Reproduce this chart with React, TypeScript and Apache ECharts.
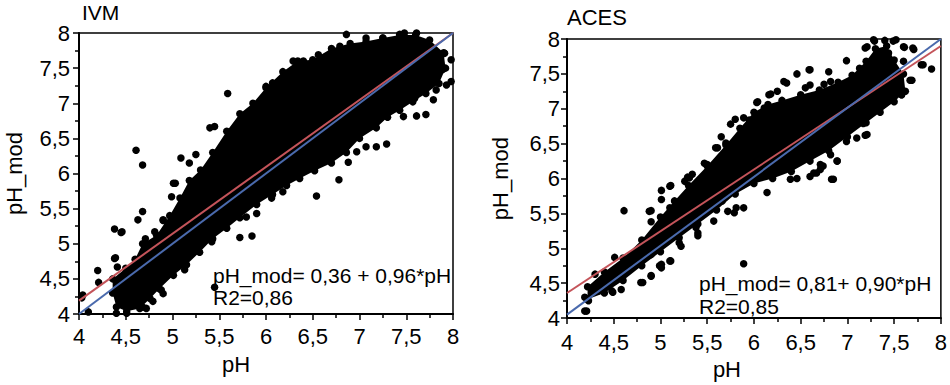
import React, { useEffect, useRef } from 'react';
import * as echarts from 'echarts';

// ---------- data ----------
const TITLES = ['IVM', 'ACES'];
const EQUATIONS = ['pH_mod= 0,36 + 0,96*pH', 'pH_mod= 0,81+ 0,90*pH'];
const R2_LABELS = ['R2=0,86', 'R2=0,85'];

// dense cloud outline (upper edge then lower edge) – IVM
const IVM_UPPER: number[][] = [
  [4.36, 4.5], [4.5, 4.65], [4.6, 4.78], [4.68, 5.0], [4.83, 5.12], [4.97, 5.4], [5.08, 5.65], [5.18, 5.9],
  [5.3, 6.05], [5.43, 6.3], [5.58, 6.6], [5.72, 6.85], [5.86, 7.0], [6.0, 7.22], [6.18, 7.45], [6.34, 7.6],
  [6.5, 7.62], [6.7, 7.78], [6.9, 7.85], [7.07, 7.88], [7.25, 7.93], [7.43, 7.97], [7.6, 7.97], [7.75, 7.9], [7.9, 7.72],
];
const IVM_LOWER: number[][] = [
  [7.92, 7.5], [7.85, 7.28], [7.71, 7.14], [7.57, 7.02], [7.43, 6.9], [7.3, 6.8], [7.18, 6.65], [7.0, 6.5],
  [6.86, 6.3], [6.7, 6.15], [6.52, 6.04], [6.36, 5.93], [6.22, 5.83], [6.07, 5.7], [5.9, 5.56], [5.72, 5.37],
  [5.58, 5.22], [5.43, 5.07], [5.29, 4.88], [5.15, 4.7], [5.01, 4.55], [4.86, 4.36], [4.76, 4.22], [4.65, 4.08],
  [4.51, 4.04], [4.4, 4.1], [4.36, 4.3],
];
const IVM_POINTS: number[][] = [
  [5.59, 7.14], [4.61, 6.33], [4.68, 6.12], [4.68, 5.46], [4.63, 5.34], [4.38, 5.21], [4.45, 5.16], [4.38, 4.79],
  [4.41, 4.67], [4.2, 4.62], [4.21, 4.45], [4.04, 4.27], [4.1, 4.03], [4.4, 4.01], [4.51, 4.01], [4.76, 4.96],
  [4.9, 5.34], [5.01, 5.86], [5.09, 6.22], [5.18, 6.15], [5.25, 6.27], [4.99, 5.67], [5.4, 6.65], [5.45, 6.67],
  [5.72, 5.09], [5.85, 5.11], [5.79, 5.38], [5.9, 5.43], [6.06, 5.65], [6.18, 5.74], [6.54, 5.68], [6.78, 5.91],
  [6.88, 6.16], [6.97, 6.31], [7.07, 6.38], [7.18, 6.38], [7.29, 6.42], [7.47, 6.81], [7.61, 6.82], [7.71, 6.84],
  [7.79, 7.05], [7.59, 7.07], [7.91, 7.71], [7.98, 7.62], [7.98, 7.31], [7.93, 7.26], [7.82, 7.19], [7.89, 7.48],
  [7.54, 7.21], [6.86, 7.98], [6.79, 7.81], [6.29, 7.6], [6.4, 7.6], [6.0, 7.24], [6.07, 7.29], [6.56, 7.69],
  [7.43, 7.98], [7.48, 8.0], [7.61, 8.0], [7.25, 7.93], [7.07, 7.93], [4.86, 4.67], [4.9, 4.29], [4.79, 4.18],
  [4.72, 4.08], [4.47, 4.29], [5.45, 4.38], [5.42, 5.03], [5.13, 4.63], [4.99, 4.58], [4.88, 4.34], [4.68, 4.1],
  [5.03, 5.86], [4.9, 5.33], [4.81, 5.17], [4.71, 5.07], [4.46, 5.17], [4.39, 4.8], [4.03, 4.23],
];
const IVM_FIT: number[][] = [[4, 4.19], [8, 8.0]];
const IVM_ONE: number[][] = [[4, 4.0], [8, 8.0]];

// ACES
const ACES_UPPER: number[][] = [
  [4.22, 4.45], [4.4, 4.66], [4.6, 4.86], [4.8, 5.12], [5.0, 5.45], [5.15, 5.68], [5.3, 5.9], [5.5, 6.18],
  [5.7, 6.48], [5.85, 6.72], [6.0, 6.95], [6.15, 7.06], [6.3, 7.12], [6.5, 7.2], [6.7, 7.27], [6.9, 7.38],
  [7.05, 7.48], [7.2, 7.68], [7.3, 7.86], [7.42, 7.9], [7.5, 7.7], [7.6, 7.5],
];
const ACES_LOWER: number[][] = [
  [7.62, 7.25], [7.5, 7.1], [7.35, 6.95], [7.2, 6.8], [7.0, 6.6], [6.8, 6.4], [6.6, 6.25], [6.4, 6.1],
  [6.2, 6.0], [6.0, 5.93], [5.8, 5.78], [5.6, 5.55], [5.4, 5.35], [5.2, 5.15], [5.0, 4.95], [4.8, 4.75],
  [4.6, 4.54], [4.4, 4.36], [4.22, 4.27],
];
const ACES_POINTS: number[][] = [
  [7.29, 7.97], [7.4, 7.98], [7.49, 7.97], [7.19, 7.87], [7.61, 7.88], [7.71, 7.85], [7.33, 7.82], [7.44, 7.8],
  [7.81, 7.63], [7.9, 7.57], [7.49, 7.68], [7.6, 7.68], [7.69, 7.41], [7.58, 7.2], [6.99, 7.69], [7.13, 7.58],
  [6.6, 7.56], [6.46, 7.5], [6.8, 7.53], [6.32, 7.39], [6.6, 7.34], [6.82, 7.39], [6.18, 7.21], [6.03, 7.09],
  [6.11, 7.01], [5.95, 6.84], [5.75, 6.78], [5.61, 6.44], [5.5, 6.2], [5.29, 6.02], [6.18, 6.63], [6.32, 6.96],
  [6.41, 6.96], [6.5, 7.13], [6.99, 7.1], [7.17, 6.79], [7.19, 6.62], [7.1, 6.58], [6.99, 6.53], [6.82, 6.34],
  [6.89, 6.25], [6.71, 6.2], [6.67, 6.08], [6.85, 5.99], [7.31, 7.06], [7.38, 7.15], [7.52, 7.29],
  [6.6, 6.03], [6.46, 6.0], [5.89, 5.58], [5.89, 4.78], [5.81, 5.58], [5.72, 5.53], [5.66, 5.68], [5.38, 5.3],
  [5.4, 5.18], [5.2, 5.08], [5.11, 4.82], [5.01, 4.77], [5.01, 4.72], [4.9, 4.61], [4.81, 4.51], [4.61, 5.54],
  [5.1, 5.89], [5.01, 5.83], [5.01, 5.7], [4.9, 5.54], [4.9, 5.38], [5.1, 5.58], [5.11, 5.44], [5.01, 5.2],
  [5.01, 5.1], [4.51, 4.87], [4.3, 4.63], [4.19, 4.1], [4.19, 4.3], [4.48, 4.39], [4.33, 4.39], [4.9, 4.91],
  [4.77, 4.82], [5.5, 5.91], [5.26, 5.96], [5.34, 6.06],
  [4.88, 5.53], [5.11, 5.9], [5.31, 6.01], [5.47, 6.22], [5.59, 6.44], [5.7, 6.51], [5.89, 6.87], [6.04, 7.1],
  [6.16, 7.2], [6.35, 7.37], [6.59, 7.56], [7.21, 7.89], [7.28, 7.99], [7.52, 7.99], [7.6, 7.89], [7.7, 7.87],
  [7.79, 7.63], [7.67, 7.41], [7.58, 7.2], [7.21, 6.63], [6.92, 6.63], [6.89, 6.25], [6.74, 6.18], [6.71, 6.13],
  [6.83, 5.99], [6.64, 6.08], [6.39, 5.99], [6.14, 5.8], [5.79, 5.51], [5.57, 5.39], [5.4, 5.22], [5.22, 5.03],
  [5.1, 4.82], [4.99, 4.75], [4.9, 4.6], [4.79, 4.51], [4.58, 4.41], [4.49, 4.37], [4.37, 4.41], [4.23, 4.25],
  [4.21, 4.1], [6.25, 7.25], [6.55, 7.3], [6.75, 7.35], [5.8, 6.85], [5.65, 6.6],
];
const ACES_FIT: number[][] = [[4, 4.36], [8, 7.9]];
const ACES_ONE: number[][] = [[4, 4.05], [8, 8.0]];

// ---------- styling ----------
const FONT = '"Liberation Sans", Arial, Helvetica, sans-serif';
const RED = '#c4545a';
const BLUE = '#4a6aad';
const fmt = (v: number) => String(v).replace('.', ',');

const GRIDS = [
  { left: 79, top: 33, width: 374, height: 281 },
  { left: 567, top: 39, width: 376, height: 280 },
];

function makeX(gridIndex: number, labelMargin: number, nameGap: number, shift: number) {
  return {
    type: 'value', gridIndex, min: 4, max: 8, interval: 0.5,
    axisLine: { show: true, onZero: false, lineStyle: { color: '#000', width: 2 } },
    axisTick: { show: true, length: 6, lineStyle: { color: '#000', width: 1.5 } },
    minorTick: { show: true, splitNumber: 2, length: 4, lineStyle: { color: '#000', width: 1.5 } },
    splitLine: { show: false }, minorSplitLine: { show: false },
    axisLabel: { formatter: fmt, fontSize: 22, color: '#000', fontFamily: FONT, margin: labelMargin, showMinLabel: true, showMaxLabel: true },
    name: 'pH', nameLocation: 'middle', nameGap,
    nameTextStyle: { fontSize: 22, color: '#000', fontFamily: FONT, padding: [0, shift * 2, 0, 0] },
  };
}
function makeY(gridIndex: number, labelMargin: number, nameGap: number) {
  return {
    type: 'value', gridIndex, min: 4, max: 8, interval: 0.5,
    axisLine: { show: true, onZero: false, lineStyle: { color: '#000', width: 2 } },
    axisTick: { show: true, length: 6, lineStyle: { color: '#000', width: 1.5 } },
    minorTick: { show: true, splitNumber: 2, length: 4, lineStyle: { color: '#000', width: 1.5 } },
    splitLine: { show: false }, minorSplitLine: { show: false },
    axisLabel: { formatter: fmt, fontSize: 22, color: '#000', fontFamily: FONT, margin: labelMargin, showMinLabel: true, showMaxLabel: true },
    name: 'pH_mod', nameLocation: 'middle', nameGap,
    nameTextStyle: { fontSize: 22, color: '#000', fontFamily: FONT },
  };
}

function cloud(idx: number, upper: number[][], lower: number[][]) {
  const poly = upper.concat(lower);
  return {
    type: 'custom', xAxisIndex: idx, yAxisIndex: idx, z: 2,
    data: [poly[0]],
    renderItem: (_p: any, api: any) => ({
      type: 'polygon',
      shape: { points: poly.map((pt) => api.coord(pt)) },
      style: { fill: '#000' },
    }),
  };
}
function dots(idx: number, data: number[][]) {
  return {
    type: 'scatter', xAxisIndex: idx, yAxisIndex: idx, z: 3,
    symbol: 'circle', symbolSize: 7.5, data,
    itemStyle: { color: '#000', opacity: 1 },
  };
}
function line(idx: number, data: number[][], color: string) {
  return {
    type: 'line', xAxisIndex: idx, yAxisIndex: idx, z: 5, data,
    symbol: 'none', lineStyle: { color, width: 2 },
  };
}

function text(x: number, y: number, s: string, size: number) {
  return {
    type: 'text', x, y, z: 10,
    style: { text: s, fill: '#000', font: `${size}px ${FONT}`, align: 'left', verticalAlign: 'middle' },
  };
}

const option: any = {
  animation: false,
  backgroundColor: '#fff',
  grid: GRIDS.map((g) => ({ ...g, show: true, borderColor: '#000', borderWidth: 1.5, backgroundColor: 'transparent' })),
  xAxis: [makeX(0, 11, 39, 30), makeX(1, 13, 31, 27)],
  yAxis: [makeY(0, 9, 54), makeY(1, 7, 56)],
  series: [
    cloud(0, IVM_UPPER, IVM_LOWER),
    dots(0, IVM_UPPER.concat(IVM_LOWER, IVM_POINTS)),
    line(0, IVM_FIT, RED),
    line(0, IVM_ONE, BLUE),
    cloud(1, ACES_UPPER, ACES_LOWER),
    dots(1, ACES_UPPER.concat(ACES_LOWER, ACES_POINTS)),
    line(1, ACES_FIT, RED),
    line(1, ACES_ONE, BLUE),
  ],
  graphic: [
    text(82, 12, TITLES[0], 21),
    text(567, 17, TITLES[1], 22),
    text(213, 275.5, EQUATIONS[0], 21),
    text(213, 297.5, R2_LABELS[0], 21),
    text(699, 283, EQUATIONS[1], 21),
    text(699, 306.5, R2_LABELS[1], 21),
  ],
};

export default function App() {
  const ref = useRef<HTMLDivElement>(null);
  useEffect(() => {
    document.body.style.margin = '0';
    const chart = echarts.init(ref.current!, null, { renderer: 'svg' });
    chart.setOption(option);
    return () => chart.dispose();
  }, []);
  return <div ref={ref} style={{ width: 950, height: 385 }} />;
}
